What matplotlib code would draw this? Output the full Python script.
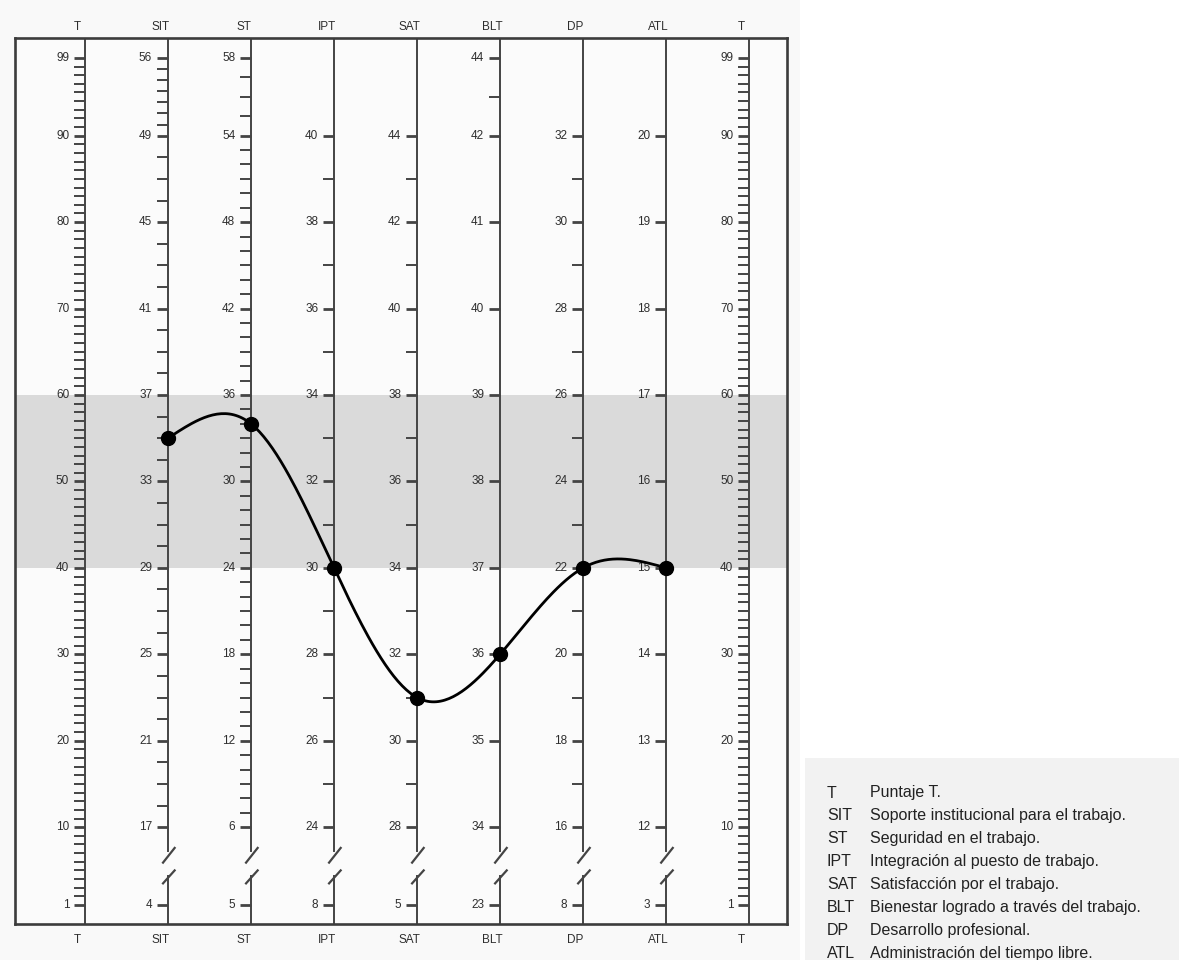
import matplotlib.pyplot as plt
import numpy as np
from matplotlib.patches import Rectangle

plt.rcParams['font.family'] = ['Liberation Sans', 'DejaVu Sans']

# column headers of the profile sheet (T score repeated on both sides)
scales = ['T', 'SIT', 'ST', 'IPT', 'SAT', 'BLT', 'DP', 'ATL', 'T']

# T score levels where the raw scores are printed
t_top = [99, 90, 80, 70, 60, 50, 40, 30, 20, 10]
t_mid = [90, 80, 70, 60, 50, 40, 30, 20, 10]

t_labels = [99, 90, 80, 70, 60, 50, 40, 30, 20, 10, 1]
sit_labels = [56, 49, 45, 41, 37, 33, 29, 25, 21, 17]
st_labels = [58, 54, 48, 42, 36, 30, 24, 18, 12, 6]
ipt_labels = [40, 38, 36, 34, 32, 30, 28, 26, 24]
sat_labels = [44, 42, 40, 38, 36, 34, 32, 30, 28]
blt_labels = [44, 42, 41, 40, 39, 38, 37, 36, 35, 34]
dp_labels = [32, 30, 28, 26, 24, 22, 20, 18, 16]
atl_labels = [20, 19, 18, 17, 16, 15, 14, 13, 12]

# lowest raw score of each scale, printed at T = 1 under the axis break
bottom_labels = [4, 5, 8, 5, 23, 8, 3]

# profile of the person (raw scores)
profile_scales = ['SIT', 'ST', 'IPT', 'SAT', 'BLT', 'DP', 'ATL']
profile_raw = [35, 34, 30, 31, 36, 22, 15]

legend_abbr = ['T', 'SIT', 'ST', 'IPT', 'SAT', 'BLT', 'DP', 'ATL']
legend_text = ['Puntaje T.',
               'Soporte institucional para el trabajo.',
               'Seguridad en el trabajo.',
               'Integración al puesto de trabajo.',
               'Satisfacción por el trabajo.',
               'Bienestar logrado a través del trabajo.',
               'Desarrollo profesional.',
               'Administración del tiempo libre.']

LINE = '#444444'
TEXT = '#2e2e2e'
TICK = 0.13      # tick length in column units
Y_TOP, Y_BOT = 101.3, -1.2


def raw_to_t(raw, labels, levels):
    return np.interp(raw, labels[::-1], levels[::-1])


def natural_spline(x, y, n=40):
    # natural cubic spline, equally spaced knots
    x = np.asarray(x, float)
    y = np.asarray(y, float)
    k = len(x)
    A = np.zeros((k, k))
    b = np.zeros(k)
    A[0, 0] = A[-1, -1] = 1
    for i in range(1, k - 1):
        A[i, i - 1:i + 2] = [1, 4, 1]
        b[i] = 6 * (y[i + 1] - 2 * y[i] + y[i - 1])
    M = np.linalg.solve(A, b)
    xs, ys = [], []
    for i in range(k - 1):
        t = np.linspace(0, 1, n)
        yy = ((1 - t) * y[i] + t * y[i + 1]
              + ((1 - t) ** 3 - (1 - t)) * M[i] / 6
              + (t ** 3 - t) * M[i + 1] / 6)
        xs.append(x[i] + t)
        ys.append(yy)
    return np.concatenate(xs), np.concatenate(ys)


def draw_column(ax, x, labels, levels, minor, bottom=None):
    if bottom is None:
        ax.plot([x, x], [Y_BOT, Y_TOP], color=LINE, lw=1.4, zorder=2)
    else:
        # broken axis
        ax.plot([x, x], [7.3, Y_TOP], color=LINE, lw=1.4, zorder=2)
        ax.plot([x, x], [Y_BOT, 4.4], color=LINE, lw=1.4, zorder=2)
        for y0, y1 in [(5.9, 7.6), (3.5, 5.0)]:
            ax.plot([x - 0.06, x + 0.08], [y0, y1], color=LINE, lw=1.6, zorder=2)
        ax.hlines(1, x - TICK, x, color=LINE, lw=2.0, zorder=2)
        ax.text(x - TICK - 0.06, 1, str(bottom), ha='right', va='center',
                fontsize=8.5, color=TEXT)
    ax.hlines(levels, x - TICK, x, color=LINE, lw=2.0, zorder=2)
    if len(minor):
        ax.hlines(minor, x - TICK, x, color=LINE, lw=1.4, zorder=2)
    for lab, lev in zip(labels, levels):
        ax.text(x - TICK - 0.06, lev, str(lab), ha='right', va='center',
                fontsize=8.5, color=TEXT)


fig = plt.figure(figsize=(11.79, 9.6), dpi=100)
fig.patch.set_facecolor('white')
fig.patches.append(Rectangle((0, 0), 800 / 1179, 1, transform=fig.transFigure,
                             facecolor='#f9f9f9', edgecolor='none', zorder=-5))
fig.patches.append(Rectangle((805 / 1179, 0), 374 / 1179, 202 / 960,
                             transform=fig.transFigure, facecolor='#f2f2f2',
                             edgecolor='none', zorder=-4))

ax = fig.add_axes([15 / 1179, 36 / 960, 771.5 / 1179, 886 / 960])
ax.set_xlim(-0.843, 8.45)
ax.set_ylim(Y_BOT, Y_TOP)
ax.set_facecolor('#fbfbfb')
ax.set_xticks([])
ax.set_yticks([])
for sp in ax.spines.values():
    sp.set_color('#3c3c3c')
    sp.set_linewidth(1.9)

# normal range band
ax.axhspan(40, 60, color='#dadada', zorder=0, lw=0)

# T score columns
t_minor = [v for v in range(2, 99) if v not in t_labels]
for x in (0, 8):
    draw_column(ax, x, t_labels, t_labels, t_minor)

columns = [
    (sit_labels, t_top, [v for v in range(18, 56) if v not in sit_labels]),
    (st_labels, t_top, [v for v in range(7, 58) if v not in st_labels]),
    (ipt_labels, t_mid, list(range(25, 40, 2))),
    (sat_labels, t_mid, list(range(29, 44, 2))),
    (blt_labels, t_top, [43]),
    (dp_labels, t_mid, list(range(17, 32, 2))),
    (atl_labels, t_mid, []),
]
profile_t = []
for i, (labels, levels, minor) in enumerate(columns):
    minor_t = raw_to_t(np.array(minor, float), labels, levels) if minor else []
    draw_column(ax, i + 1, labels, levels, minor_t, bottom=bottom_labels[i])
    profile_t.append(raw_to_t(profile_raw[i], labels, levels))

for x, name in enumerate(scales):
    ax.text(x - 0.09, 102.6, name, ha='center', va='center', fontsize=8.5,
            color=TEXT, clip_on=False)
    ax.text(x - 0.09, -3.1, name, ha='center', va='center', fontsize=8.5,
            color=TEXT, clip_on=False)

# profile line
px = np.arange(1, len(profile_scales) + 1)
sx, sy = natural_spline(px, profile_t)
ax.plot(sx, sy, color='black', lw=2.0, zorder=4)
ax.plot(px, profile_t, 'o', color='black', ms=10, zorder=5)

# legend of abbreviations
for k, (abbr, desc) in enumerate(zip(legend_abbr, legend_text)):
    y = 1 - (793 + 22.9 * k) / 960
    fig.text(827 / 1179, y, abbr, ha='left', va='center', fontsize=11.5, color='#222222')
    fig.text(870 / 1179, y, desc, ha='left', va='center', fontsize=11.5, color='#222222')

fig.savefig('out.png', dpi=100, facecolor=fig.get_facecolor())
